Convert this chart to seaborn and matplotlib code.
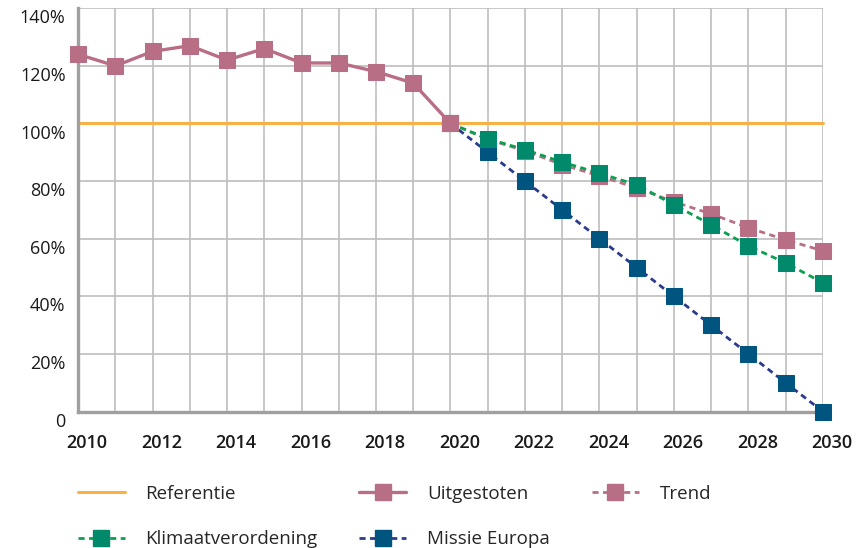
import pandas as pd
import seaborn as sns
import matplotlib.pyplot as plt
import matplotlib.transforms as mtransforms
from matplotlib.lines import Line2D

# data (percentages)
years_hist = list(range(2010, 2021))
uitgestoten = [124, 120, 125, 127, 122, 126, 121, 121, 118, 114, 100]

years_proj = list(range(2020, 2031))
trend = [100, 94.5, 90.5, 85.7, 81.8, 77.6, 72.8, 68.6, 63.8, 59.6, 55.8]
klimaat = [100, 94.7, 90.9, 86.6, 82.7, 78.7, 71.8, 64.8, 57.5, 51.6, 44.7]
missie = [100, 90, 80, 70, 60, 50, 40, 30, 20, 10, 0]

years_all = list(range(2010, 2031))
referentie = [100] * len(years_all)

y_ticks = [0, 20, 40, 60, 80, 100, 120, 140]
y_labels = ["0", "20%", "40%", "60%", "80%", "100%", "120%", "140%"]
x_ticks = list(range(2010, 2031, 2))

ORANGE = "#F8B144"
PINK = "#B86E85"
GREEN_M = "#00896A"
GREEN_L = "#0AA04E"
BLUE_M = "#005480"
BLUE_L = "#2B3A8C"
DASH = (0, (2.2, 1.6))

sns.set_theme(style="white")
plt.rcParams["font.family"] = ["Open Sans", "DejaVu Sans"]

fig = plt.figure(figsize=(8.68, 5.48), dpi=100)
ax = fig.add_axes([0.09, 0.249, 0.858, 0.736])

ms = 12
sns.lineplot(x=years_all, y=referentie, color=ORANGE, linewidth=2.2, ax=ax, zorder=2)
sns.lineplot(x=years_proj, y=missie, color=BLUE_L, linewidth=2, ax=ax,
             marker="s", markersize=ms, markerfacecolor=BLUE_M, markeredgecolor=BLUE_M,
             linestyle=DASH, zorder=3)
sns.lineplot(x=years_proj, y=trend, color=PINK, linewidth=2, ax=ax,
             marker="s", markersize=ms, markerfacecolor=PINK, markeredgecolor=PINK,
             linestyle=DASH, zorder=4)
sns.lineplot(x=years_proj, y=klimaat, color=GREEN_L, linewidth=2, ax=ax,
             marker="s", markersize=ms, markerfacecolor=GREEN_M, markeredgecolor=GREEN_M,
             linestyle=DASH, zorder=5)
sns.lineplot(x=years_hist, y=uitgestoten, color=PINK, linewidth=2.4, ax=ax,
             marker="s", markersize=ms, markerfacecolor=PINK, markeredgecolor=PINK,
             zorder=6)

ax.set_xlim(2010, 2030)
ax.set_ylim(0, 140)
ax.set_yticks(y_ticks)
ax.set_yticklabels(y_labels)
ax.set_xticks(x_ticks)
ax.set_xticks(years_all, minor=True)
ax.tick_params(axis="both", which="both", length=0, labelsize=13, colors="#1a1a1a")
ax.tick_params(axis="x", pad=16)
ax.tick_params(axis="y", pad=9)

# labels in the reference sit a little right / below their ticks
dx = mtransforms.ScaledTranslation(6.5 / 72, 0, fig.dpi_scale_trans)
dy = mtransforms.ScaledTranslation(0, -5.8 / 72, fig.dpi_scale_trans)
for lab in ax.get_xticklabels():
    lab.set_fontweight("semibold")
    lab.set_transform(lab.get_transform() + dx)
for lab in ax.get_yticklabels():
    lab.set_transform(lab.get_transform() + dy)

ax.grid(True, which="both", color="#BDBDBD", linewidth=1.2)
ax.set_axisbelow(True)
for side in ["top", "right"]:
    ax.spines[side].set_visible(False)
for side in ["left", "bottom"]:
    ax.spines[side].set_color("#A0A0A0")
    ax.spines[side].set_linewidth(2.4)
for ln in ax.lines:
    ln.set_clip_on(False)

# legend
handles = [
    Line2D([], [], color=ORANGE, linewidth=2.2),
    Line2D([], [], color=GREEN_L, linewidth=2, linestyle=DASH,
           marker="s", markersize=ms, markerfacecolor=GREEN_M, markeredgecolor=GREEN_M),
    Line2D([], [], color=PINK, linewidth=2.4,
           marker="s", markersize=ms, markerfacecolor=PINK, markeredgecolor=PINK),
    Line2D([], [], color=BLUE_L, linewidth=2, linestyle=DASH,
           marker="s", markersize=ms, markerfacecolor=BLUE_M, markeredgecolor=BLUE_M),
    Line2D([], [], color=PINK, linewidth=2, linestyle=DASH,
           marker="s", markersize=ms, markerfacecolor=PINK, markeredgecolor=PINK),
]
labels = ["Referentie", "Klimaatverordening", "Uitgestoten", "Missie Europa", "Trend"]
fig.legend(handles, labels, ncol=3, loc="lower left", bbox_to_anchor=(0.07, -0.031),
           frameon=False, fontsize=13.5, handlelength=2.5, handletextpad=1.1,
           columnspacing=2.25, labelspacing=1.45)

plt.savefig("out.png", dpi=100)
